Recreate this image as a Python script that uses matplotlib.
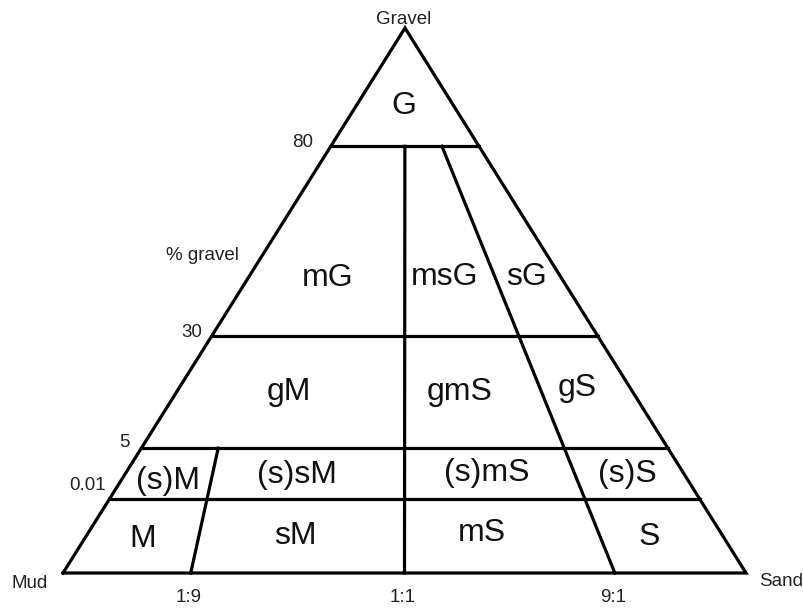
import matplotlib
matplotlib.use('Agg')
import matplotlib.pyplot as plt

plt.rcParams['font.family'] = ['Liberation Sans', 'DejaVu Sans']

# Folk sediment classes (schematic, not to scale)
gravel_levels = [80, 30, 5, 0.01]
gravel_labels = ['80', '30', '5', '0.01']
ratio_labels = ['1:9', '1:1', '9:1']
corner_labels = ['Gravel', 'Mud', 'Sand']
class_names = ['G', 'mG', 'msG', 'sG', 'gM', 'gmS', 'gS',
               '(s)M', '(s)sM', '(s)mS', '(s)S', 'M', 'sM', 'mS', 'S']

# layout of the schematic (pixels of the figure)
left, right, apex = (63, 573), (746, 573), (405, 28)
level_h = {80: 0.783, 30: 0.435, 5: 0.229, 0.01: 0.136}
level_lab_off = {80: (-18, -4), 30: (-10, -3), 5: (-12, -6), 0.01: (-4, -13)}
# ratio lines: (fraction across at base, fraction across at top, top gravel level)
ratio_geom = {'1:9': (0.187, 0.146, 5), '1:1': (0.5, 0.5, 80), '9:1': (0.808, 0.75, 80)}
class_pos = {'G': (404, 106), 'mG': (328, 278), 'msG': (445, 277), 'sG': (527, 277),
             'gM': (289, 392), 'gmS': (460, 392), 'gS': (577, 388),
             '(s)M': (168, 481), '(s)sM': (297, 475), '(s)mS': (487, 473), '(s)S': (627, 474),
             'M': (143, 539), 'sM': (295, 536), 'mS': (482, 533), 'S': (649, 537)}
H = left[1] - apex[1]


def edges(h):
    y = left[1] - h * H
    xl = left[0] + h * (apex[0] - left[0])
    xr = right[0] + h * (apex[0] - right[0])
    return xl, xr, y


def point(s, h):
    xl, xr, y = edges(h)
    return xl + s * (xr - xl), y


fig = plt.figure(figsize=(8.04, 6.09), dpi=100)
ax = fig.add_axes([0, 0, 1, 1])
ax.set_xlim(0, 804)
ax.set_ylim(609, 0)
ax.axis('off')

lw = 2.3
small = 13.5
ax.plot([left[0], right[0], apex[0], left[0]], [left[1], right[1], apex[1], left[1]],
        color='black', lw=lw, solid_joinstyle='miter')

for lev, lab in zip(gravel_levels, gravel_labels):
    xl, xr, y = edges(level_h[lev])
    ax.plot([xl, xr], [y, y], color='black', lw=lw)
    dx, dy = level_lab_off[lev]
    ax.text(xl + dx, y + dy, lab, ha='right', va='center', fontsize=small, color='#222222')

for lab in ratio_labels:
    s0, s1, top = ratio_geom[lab]
    x0, y0 = point(s0, 0)
    x1, y1 = point(s1, level_h[top])
    ax.plot([x0, x1], [y0, y1], color='black', lw=lw)
    ax.text(x0 - 2, 597, lab, ha='center', va='center', fontsize=small, color='#222222')

ax.text(apex[0] - 1, 19, corner_labels[0], ha='center', va='center', fontsize=small, color='#222222')
ax.text(30, 583, corner_labels[1], ha='center', va='center', fontsize=small, color='#222222')
ax.text(781, 582, corner_labels[2], ha='center', va='center', fontsize=small, color='#222222')
ax.text(202, 256, '% gravel', ha='center', va='center', fontsize=small, color='#222222')

for name in class_names:
    x, y = class_pos[name]
    ax.text(x, y, name, ha='center', va='center', fontsize=23, color='#111111')

fig.savefig('out.png', dpi=100)
